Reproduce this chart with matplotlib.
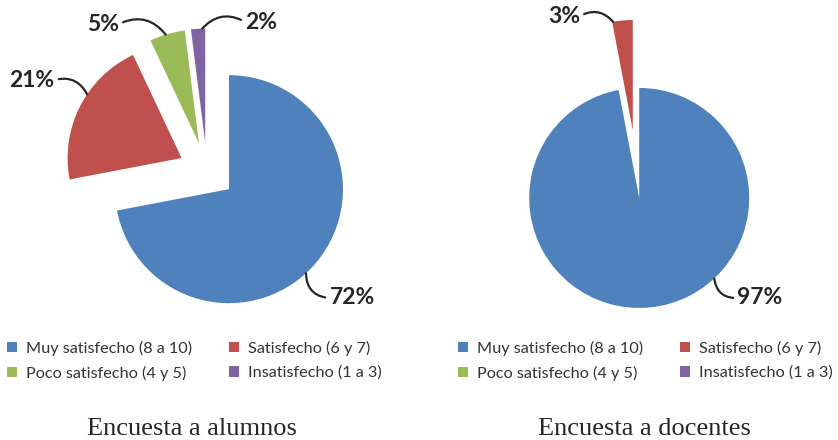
import numpy as np
import matplotlib.pyplot as plt
from matplotlib.patches import Patch

# datos
categorias = ['Muy satisfecho (8 a 10)', 'Satisfecho (6 y 7)',
              'Poco satisfecho (4 y 5)', 'Insatisfecho (1 a 3)']
alumnos = [72, 21, 5, 2]
docentes = [97, 3, 0, 0]
titulos = ['Encuesta a alumnos', 'Encuesta a docentes']
colores = ['#4F81BD', '#C0504D', '#9BBB59', '#8064A2']

plt.rcParams['font.family'] = ['Lato', 'DejaVu Sans']
W, H = 838, 440
fig = plt.figure(figsize=(W / 100, H / 100), dpi=100)


def crear_ejes(cx, cy, r_px, lado=380):
    ax = fig.add_axes([(cx - lado / 2) / W, (H - cy - lado / 2) / H, lado / W, lado / H])
    lim = lado / 2 / r_px
    return ax, lim


def pastel(ax, lim, valores, explode, angulos, posiciones, rads, relpos):
    wedges, _ = ax.pie(valores, colors=colores, startangle=90, counterclock=False,
                       explode=[explode] * len(valores), radius=1,
                       wedgeprops=dict(linewidth=0))
    ax.set_xlim(-lim, lim)
    ax.set_ylim(-lim, lim)
    ax.set_aspect('equal')
    ax.axis('off')
    for w, v, ang, pos, rad, rp in zip(wedges, valores, angulos, posiciones, rads, relpos):
        if v == 0:
            continue
        cx, cy = w.center
        t = np.radians(ang)
        punta = (cx + w.r * np.cos(t), cy + w.r * np.sin(t))
        ax.annotate(f'{v}%', xy=punta, xytext=pos, ha='center', va='center',
                    fontsize=16.5, color='#262626', fontweight='bold',
                    annotation_clip=False,
                    arrowprops=dict(arrowstyle='-', color='#262626', lw=1.6,
                                    connectionstyle=f'arc3,rad={rad}',
                                    relpos=rp, shrinkA=1, shrinkB=0))
    return wedges


# alumnos
ax1, lim1 = crear_ejes(207, 171, 114)
w1 = pastel(ax1, lim1, alumnos, 0.25,
            angulos=[-47.5, 146, 107, 91.5],
            posiciones=[(1.272, -1.114), (-1.535, 0.798), (-0.912, 1.289), (0.474, 1.307)],
            rads=[-0.45, -0.4, -0.4, 0.4],
            relpos=[(0, 0.5), (1, 0.5), (1, 0.5), (0, 0.5)])

# docentes
ax2, lim2 = crear_ejes(636, 164, 110)
w2 = pastel(ax2, lim2, docentes, 0.31,
            angulos=[-47, 100.3, 0, 0],
            posiciones=[(1.127, -1.218), (-0.655, 1.345), (0, 0), (0, 0)],
            rads=[-0.45, -0.4, 0, 0],
            relpos=[(0, 0.5), (1, 0.5), (0, 0.5), (0, 0.5)])

orden = [0, 2, 1, 3]
handles = [Patch(facecolor=colores[i], edgecolor='none') for i in orden]
labels = [categorias[i] for i in orden]
for x0, titulo, xt in [(7, titulos[0], 192), (458, titulos[1], 644)]:
    fig.legend(handles, labels, ncol=2, loc='upper left',
               bbox_to_anchor=(x0 / W, (H - 341) / H), frameon=False,
               fontsize=11.7, labelcolor='#333333', handlelength=0.6, handleheight=0.6,
               handletextpad=0.55, columnspacing=2.3, labelspacing=0.6,
               borderpad=0, borderaxespad=0)
    fig.text(xt / W, (H - 435) / H, titulo, ha='center', va='baseline',
             fontsize=19, color='#262626', family='Liberation Serif')

fig.savefig('out.png', dpi=100)
